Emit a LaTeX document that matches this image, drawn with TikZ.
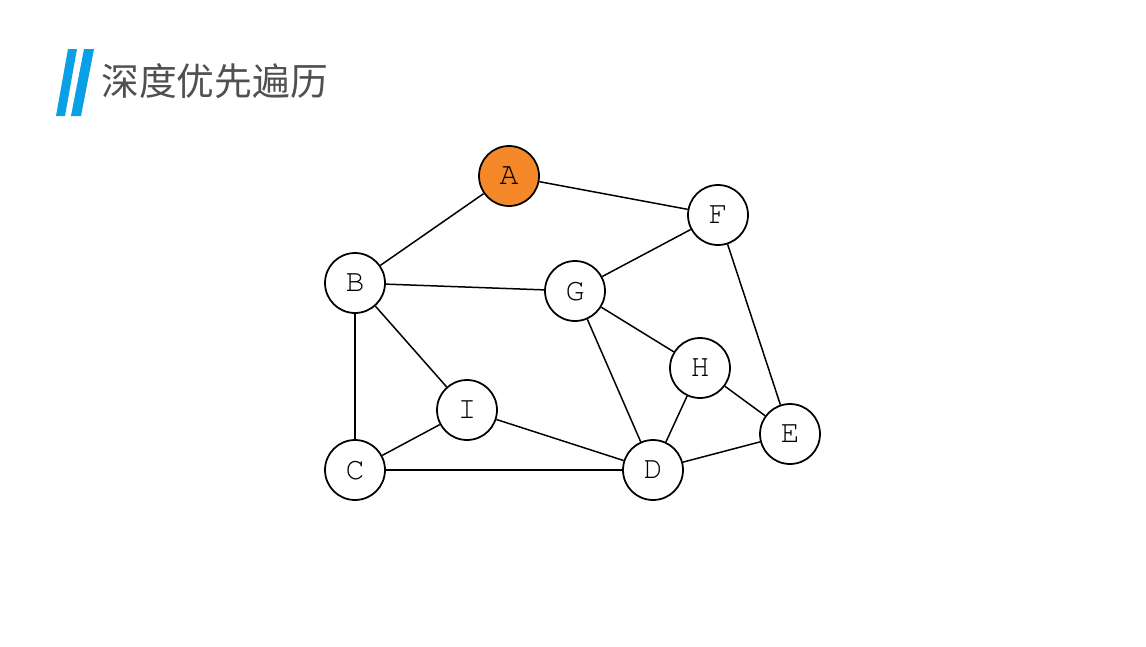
\documentclass[tikz,border=0pt]{standalone}
\usepackage[T1]{fontenc}
\usepackage{fontspec}
\newfontfamily\cjk{Noto Sans CJK SC}
\newcommand\vtxfont{\fontencoding{T1}\fontfamily{pcr}\fontsize{18}{20}\selectfont}
\definecolor{dfsOrange}{RGB}{245,137,42}
\definecolor{dfsBlue}{RGB}{10,160,232}
\definecolor{dfsTitle}{RGB}{80,80,80}
\begin{document}
\begin{tikzpicture}[x=0.02cm,y=-0.02cm,
    dfsVtx/.style={draw,line width=1pt,circle,fill=white,minimum size=1.2cm,inner sep=0pt,font=\vtxfont},
    dfsStart/.style={dfsVtx,fill=dfsOrange},
    dfsEdge/.style={line width=0.85pt},
]
\useasboundingbox (0,0) rectangle (1146,646);
% Title
\fill[dfsBlue] (68,49) -- (77,49) -- (65,116) -- (56,116) -- cycle;
\fill[dfsBlue] (84,49) -- (94,49) -- (81,116) -- (71,116) -- cycle;
\node[anchor=west,inner sep=0pt,text=dfsTitle,font=\cjk\fontsize{21.5}{24}\selectfont] (title) at (101,81) {深度优先遍历};
% Vertices
\node[dfsStart] (A) at (509,176) {A};
\node[dfsVtx] (F) at (718,215) {F};
\node[dfsVtx] (B) at (355,283) {B};
\node[dfsVtx] (G) at (575,291) {G};
\node[dfsVtx] (H) at (700,368) {H};
\node[dfsVtx] (I) at (467,410) {I};
\node[dfsVtx] (E) at (790,434) {E};
\node[dfsVtx] (C) at (355,470) {C};
\node[dfsVtx] (D) at (653,470) {D};
% Edges
\draw[dfsEdge] (A) -- (B);
\draw[dfsEdge] (A) -- (F);
\draw[dfsEdge] (F) -- (G);
\draw[dfsEdge] (F) -- (E);
\draw[dfsEdge] (B) -- (G);
\draw[dfsEdge] (B) -- (I);
\draw[dfsEdge] (B) -- (C);
\draw[dfsEdge] (G) -- (H);
\draw[dfsEdge] (G) -- (D);
\draw[dfsEdge] (H) -- (D);
\draw[dfsEdge] (H) -- (E);
\draw[dfsEdge] (I) -- (C);
\draw[dfsEdge] (I) -- (D);
\draw[dfsEdge] (C) -- (D);
\draw[dfsEdge] (D) -- (E);
\end{tikzpicture}
\end{document}
